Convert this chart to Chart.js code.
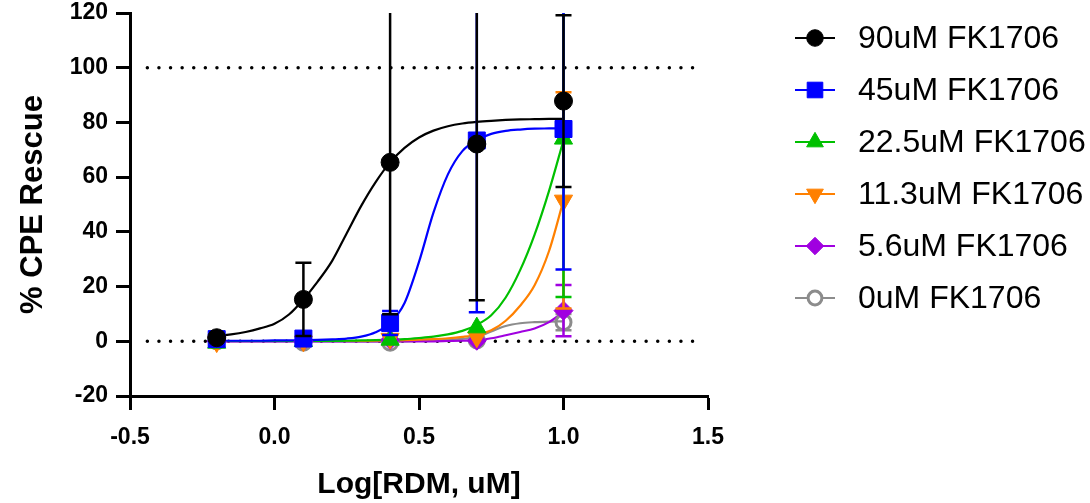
<!DOCTYPE html>
<html>
<head>
<meta charset="utf-8">
<script src="https://cdn.jsdelivr.net/npm/chart.js@4.4.1/dist/chart.umd.min.js"></script>
<style>
  html, body { margin: 0; padding: 0; background: #fff; }
  #cadre { width: 1090px; height: 503px; }
</style>
</head>
<body>
<div id="cadre"><canvas id="graph"></canvas></div>
<script>
// Concentrations testées (log RDM)
const logRdm = [-0.2, 0.1, 0.4, 0.7, 1.0];

// Moyennes et écarts-types
const moy90 = [1.3, 15.3, 65.4, 72.1, 87.8];
const et90 = [0, 13.4, 55.5, 57.1, 31.4];
const moy45 = [0.8, 1.0, 6.7, 73.4, 77.6];
const et45 = [0, 0, 4.4, 62.8, 51.4];
const moy225 = [-0.6, 0, 0.5, 5.0, 74.0];
const et225 = [0, 0, 0, 0, 57.8];
const moy113 = [-0.3, 0, 1.0, 1.5, 51.5];
const et113 = [0, 0, 0, 0, 39.5];
const moy56 = [0, 0, 0.5, 0.2, 11.2];
const et56 = [0, 0, 0, 0, 9.4];
const moy0 = [0, -0.5, -0.5, 0.3, 7.0];
const et0 = [0, 0, 0, 0, 3.0];

// Courbes ajustées, relevées tous les 0.05
const courbeX = [-0.2, -0.15, -0.1, -0.05, 0, 0.05, 0.1, 0.15, 0.2, 0.25, 0.3, 0.35, 0.4,
                 0.45, 0.5, 0.55, 0.6, 0.65, 0.7, 0.75, 0.8, 0.85, 0.9, 0.95, 1.0];
const courbe90 = [1.9, 2.5, 3.4, 4.7, 6.4, 9.8, 15.3, 21.9, 29.5, 39.5, 49.5, 58.2, 65.4,
                  70.7, 74.5, 77.0, 78.6, 79.6, 80.2, 80.6, 80.9, 81.1, 81.2, 81.3, 81.3];
const courbe45 = [0.2, 0.2, 0.2, 0.2, 0.3, 0.3, 0.4, 0.5, 0.7, 1.0, 1.7, 3.3, 6.7,
                  14, 29, 47, 61, 69.5, 73.5, 75.8, 76.9, 77.4, 77.7, 77.8, 77.9];
const courbe225 = [0.1, 0.1, 0.1, 0.1, 0.1, 0.1, 0.1, 0.1, 0.1, 0.2, 0.3, 0.4, 0.6,
                   0.8, 1.2, 1.7, 2.5, 3.8, 6.0, 9.5, 16, 26, 39, 55, 73.5];
const courbe113 = [0.1, 0.1, 0.1, 0.1, 0.1, 0.1, 0.1, 0.1, 0.1, 0.1, 0.1, 0.2, 0.3,
                   0.4, 0.6, 0.8, 1.1, 1.6, 2.4, 4.0, 7.5, 13, 20.5, 33, 51.5];
const courbe56 = [0, 0, 0, 0, 0, 0, 0, 0, 0, 0, 0, 0, 0,
                  0, 0, 0, 0.1, 0.2, 0.4, 1.1, 2.2, 3.4, 4.7, 7.0, 10.8];
const courbe0 = [0, 0, 0, 0, 0, 0, 0, 0, 0, 0, 0, 0, 0,
                 0, 0.1, 0.3, 0.5, 0.9, 1.6, 3.6, 5.6, 6.6, 7.0, 7.2, 7.3];

// Légende et graduations
const nomsSeries = ['90uM FK1706', '45uM FK1706', '22.5uM FK1706', '11.3uM FK1706', '5.6uM FK1706', '0uM FK1706'];
const ticksX = [-0.5, 0.0, 0.5, 1.0, 1.5];
const ticksY = [-20, 0, 20, 40, 60, 80, 100, 120];
const lignesRef = [0, 100];
const bornesRef = [-0.44, 1.48];

const couleurs = ['#000000', '#0000FF', '#00C000', '#FF8000', '#A000E0', '#8C8C8C'];
const styles = [
    {pointStyle: 'circle', radius: 9, rotation: 0, fond: true},
    {pointStyle: 'rect', radius: 12, rotation: 0, fond: true},
    {pointStyle: 'triangle', radius: 10.5, rotation: 0, fond: true},
    {pointStyle: 'triangle', radius: 10.5, rotation: 180, fond: true},
    {pointStyle: 'rectRot', radius: 9.5, rotation: 0, fond: true},
    {pointStyle: 'circle', radius: 7.5, rotation: 0, fond: false}
];
const moyennes = [moy90, moy45, moy225, moy113, moy56, moy0];
const ecarts = [et90, et45, et225, et113, et56, et0];
const courbes = [courbe90, courbe45, courbe225, courbe113, courbe56, courbe0];

const police = '"Liberation Sans", Arial, sans-serif';

// Barres d'erreur dessinées juste avant les points de chaque série
const barresErreur = {
    id: 'barresErreur',
    beforeDatasetDraw(chart, args) {
        const ds = chart.data.datasets[args.index];
        if (!ds.erreurs) return;
        const {ctx, chartArea, scales} = chart;
        ctx.save();
        ctx.beginPath();
        ctx.rect(chartArea.left, chartArea.top, chartArea.right - chartArea.left, chartArea.bottom - chartArea.top);
        ctx.clip();
        ctx.strokeStyle = ds.borderColor;
        ctx.lineWidth = 2.5;
        ds.data.forEach((p, i) => {
            const e = ds.erreurs[i];
            if (!e) return;
            const px = scales.x.getPixelForValue(p.x);
            const haut = scales.y.getPixelForValue(p.y + e);
            const bas = scales.y.getPixelForValue(p.y - e);
            ctx.beginPath();
            ctx.moveTo(px, haut); ctx.lineTo(px, bas);
            ctx.moveTo(px - 8, haut); ctx.lineTo(px + 8, haut);
            ctx.moveTo(px - 8, bas); ctx.lineTo(px + 8, bas);
            ctx.stroke();
        });
        ctx.restore();
    }
};

// Légende à droite : trait + symbole + texte
const legendeDroite = {
    id: 'legendeDroite',
    afterDraw(chart) {
        const ctx = chart.ctx;
        nomsSeries.forEach((nom, i) => {
            const y = 38 + i * 52;
            const st = styles[i];
            ctx.save();
            ctx.strokeStyle = couleurs[i];
            ctx.lineWidth = 2;
            ctx.beginPath();
            ctx.moveTo(795, y); ctx.lineTo(835, y);
            ctx.stroke();
            ctx.fillStyle = st.fond ? couleurs[i] : '#ffffff';
            ctx.lineWidth = st.fond ? 1 : 3;
            Chart.helpers.drawPoint(ctx, {pointStyle: st.pointStyle, radius: st.radius * 0.92, rotation: st.rotation, borderWidth: st.fond ? 1 : 3}, 815, y);
            ctx.fillStyle = '#000';
            ctx.font = '32px ' + police;
            ctx.textBaseline = 'middle';
            ctx.fillText(nom, 858, y + 1);
            ctx.restore();
        });
    }
};

const datasets = [];
// Points (dessinés au-dessus)
moyennes.forEach((m, i) => {
    const st = styles[i];
    datasets.push({
        label: nomsSeries[i],
        data: logRdm.map((x, k) => ({x: x, y: m[k]})),
        erreurs: ecarts[i],
        showLine: false,
        borderColor: couleurs[i],
        backgroundColor: st.fond ? couleurs[i] : 'rgba(0,0,0,0)',
        pointStyle: st.pointStyle,
        pointRadius: st.radius,
        pointRotation: st.rotation,
        pointBorderWidth: st.fond ? 1 : 3,
        pointBackgroundColor: st.fond ? couleurs[i] : 'rgba(0,0,0,0)',
        pointBorderColor: couleurs[i]
    });
});
// Courbes ajustées
courbes.forEach((c, i) => {
    datasets.push({
        label: 'courbe ' + nomsSeries[i],
        data: courbeX.map((x, k) => ({x: x, y: c[k]})),
        showLine: true,
        borderColor: couleurs[i],
        borderWidth: 2.2,
        pointRadius: 0,
        cubicInterpolationMode: 'monotone',
        fill: false
    });
});
// Lignes pointillées à 0 et 100
lignesRef.forEach(v => {
    datasets.push({
        label: 'ref ' + v,
        data: bornesRef.map(x => ({x: x, y: v})),
        showLine: true,
        borderColor: '#000',
        borderWidth: 3.5,
        borderDash: [0, 11.6],
        borderCapStyle: 'round',
        pointRadius: 0
    });
});

const ctx = document.getElementById('graph').getContext('2d');
const chart = new Chart(ctx, {
    type: 'scatter',
    data: {datasets: datasets},
    plugins: [barresErreur, legendeDroite],
    options: {
        responsive: true,
        maintainAspectRatio: false,
        animation: false,
        layout: {padding: {top: 12, right: 382, left: 0, bottom: 0}},
        plugins: {legend: {display: false}, tooltip: {enabled: false}},
        scales: {
            x: {
                type: 'linear',
                min: -0.5,
                max: 1.5,
                afterFit(scale) { scale.height = 107; scale.paddingLeft = 0; scale.paddingRight = 0; },
                afterBuildTicks(scale) { scale.ticks = ticksX.map(v => ({value: v})); },
                grid: {display: true, drawOnChartArea: false, drawTicks: true, tickLength: 14, tickWidth: 3, tickColor: '#000'},
                border: {display: true, width: 3, color: '#000'},
                ticks: {
                    color: '#000',
                    padding: 14,
                    font: {family: police, size: 23, weight: 'bold'},
                    callback: v => v.toFixed(1)
                },
                title: {
                    display: true,
                    text: 'Log[RDM, uM]',
                    color: '#000',
                    font: {family: police, size: 30, weight: 'bold'},
                    padding: {top: 0, bottom: 0}
                }
            },
            y: {
                type: 'linear',
                min: -20,
                max: 120,
                afterFit(scale) { scale.width = 130; scale.paddingTop = 0; scale.paddingBottom = 0; },
                afterBuildTicks(scale) { scale.ticks = ticksY.map(v => ({value: v})); },
                grid: {display: true, drawOnChartArea: false, drawTicks: true, tickLength: 14, tickWidth: 3, tickColor: '#000'},
                border: {display: true, width: 3, color: '#000'},
                ticks: {
                    color: '#000',
                    padding: 8,
                    font: {family: police, size: 23, weight: 'bold', lineHeight: 1},
                    callback: v => String(v)
                },
                title: {
                    display: true,
                    text: '% CPE Rescue',
                    color: '#000',
                    font: {family: police, size: 31, weight: 'bold'},
                    padding: {top: 15, bottom: 0}
                }
            }
        }
    }
});
</script>
</body>
</html>
